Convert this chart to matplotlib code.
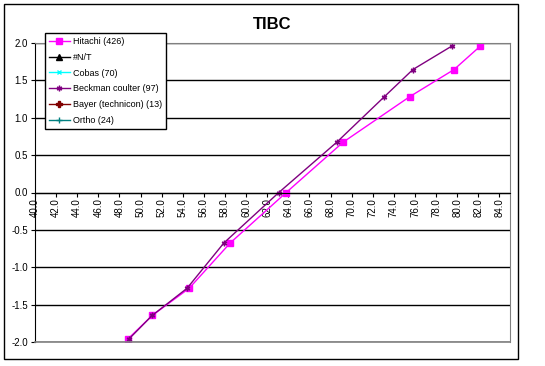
import matplotlib
matplotlib.use("Agg")
import matplotlib.pyplot as plt
from matplotlib.patches import Rectangle

plt.rcParams['font.family'] = ['Liberation Sans', 'DejaVu Sans']

# normal quantiles (y) for each series
z_scores = [-1.96, -1.645, -1.282, -0.674, 0.0, 0.674, 1.282, 1.645, 1.96]
hitachi_x = [48.8, 51.1, 54.6, 58.5, 63.8, 69.2, 75.5, 79.7, 82.2]
beckman_x = [48.9, 51.1, 54.4, 57.9, 63.1, 68.6, 73.1, 75.8, 79.5]

x_ticks = [40 + 2 * i for i in range(23)]
y_ticks = [-2.0, -1.5, -1.0, -0.5, 0.0, 0.5, 1.0, 1.5, 2.0]

W, H = 545, 366
fig = plt.figure(figsize=(W / 100, H / 100), dpi=100)
ax = fig.add_axes([35 / W, 1 - 342 / H, 475 / W, 299 / H])

# x axis crosses at y = 0 (set before the tick labels, it resets them)
ax.spines['bottom'].set_position(('data', 0))
ax.spines['bottom'].set_color('black')
ax.spines['left'].set_color('black')
for s in ['top', 'right']:
    ax.spines[s].set_color('#808080')

# series (empty ones only show up in the legend)
ax.plot(hitachi_x, z_scores, color='#FF00FF', lw=1, marker='s', ms=5,
        label='Hitachi (426)')
ax.plot([], [], color='black', lw=1, marker='^', ms=4, label='#N/T')
ax.plot([], [], color='#00FFFF', lw=1, marker='x', ms=3, label='Cobas (70)')
ax.plot(beckman_x, z_scores, color='#800080', lw=1, marker=(6, 2, 0), ms=4,
        label='Beckman coulter (97)')
ax.plot([], [], color='#800000', lw=1, marker='P', ms=4,
        label='Bayer (technicon) (13)')
ax.plot([], [], color='#008080', lw=1, marker='+', ms=4, label='Ortho (24)')

ax.set_xlim(40, 85)
ax.set_ylim(-2, 2)
ax.set_xticks(x_ticks)
ax.set_xticklabels([f'{v:.1f}' for v in x_ticks], rotation=90, fontsize=7)
ax.set_yticks(y_ticks)
ax.set_yticklabels([f'{v:.1f}' for v in y_ticks], fontsize=7)

ax.axhline(-2, color='#808080', lw=1.2, clip_on=False, zorder=3)

ax.set_axisbelow(True)
ax.yaxis.grid(True, color='black', lw=1)
ax.tick_params(axis='x', direction='out', length=3, pad=1)
ax.tick_params(axis='y', direction='out', length=3, pad=2)

fig.suptitle('TIBC', x=(35 + 510) / 2 / W, y=1 - 17 / H, fontsize=12,
             fontweight='bold')

leg = fig.legend(loc='upper left', bbox_to_anchor=(45 / W, 1 - 33 / H),
                 borderaxespad=0, fontsize=6.5, fancybox=False, framealpha=1,
                 edgecolor='black', handlelength=2.3, labelspacing=0.75,
                 handletextpad=0.3, borderpad=0.45)
leg.get_frame().set_linewidth(1)

fig.patches.append(Rectangle((4 / W, 1 - 359 / H), 514 / W, 355 / H,
                             transform=fig.transFigure, fill=False,
                             edgecolor='black', lw=1))

fig.savefig('out.png', dpi=100)
